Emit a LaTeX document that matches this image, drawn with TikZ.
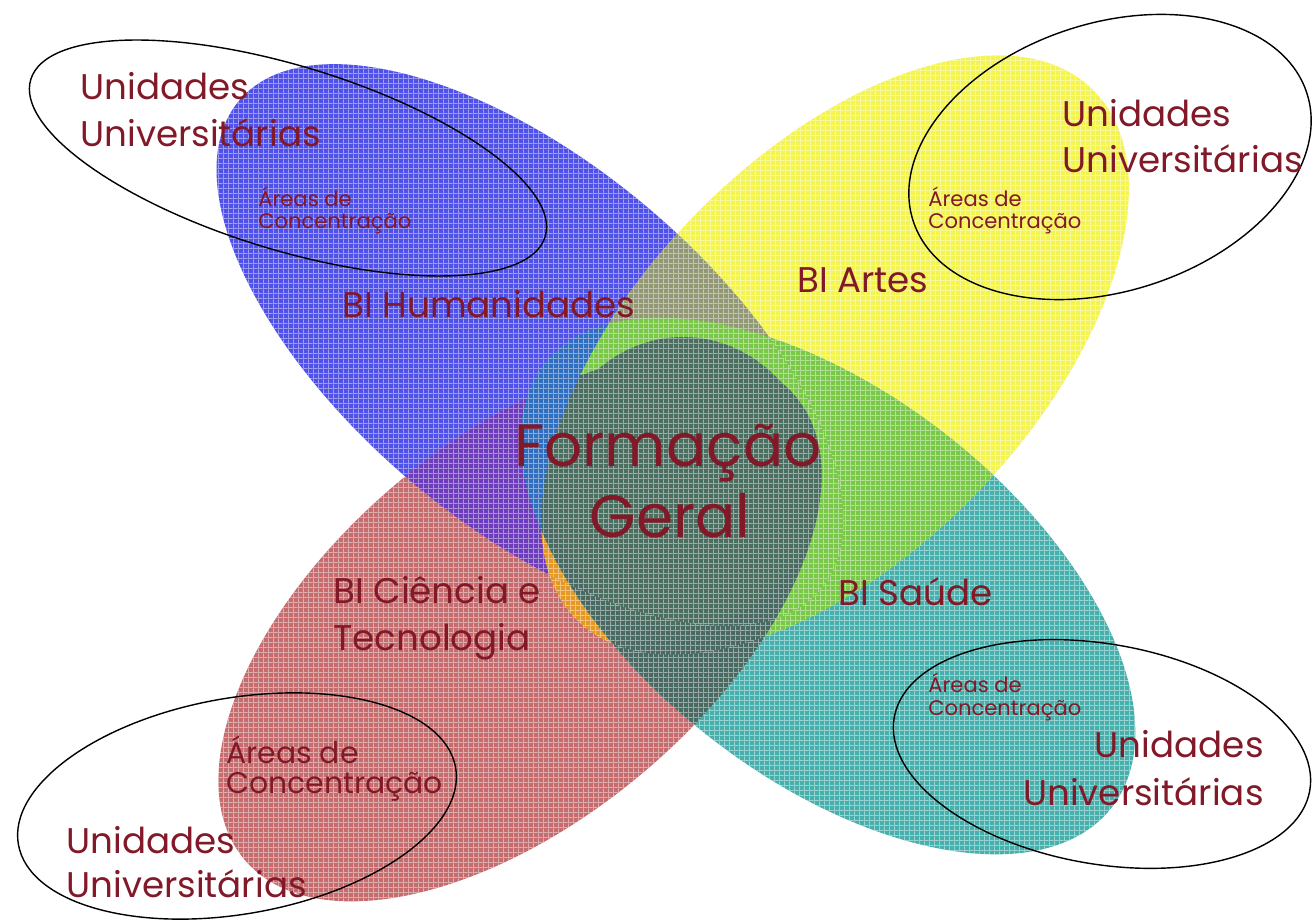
\documentclass[tikz,border=0pt]{standalone}
\usepackage{fontspec}
\setmainfont{Poppins}
\usetikzlibrary{patterns.meta}
\definecolor{cBlue}{RGB}{80,80,234}
\definecolor{cYel}{RGB}{244,244,80}
\definecolor{cRed}{RGB}{198,108,110}
\definecolor{cTeal}{RGB}{72,176,172}
\definecolor{cBY}{RGB}{146,152,116}
\definecolor{cBR}{RGB}{108,60,188}
\definecolor{cYR}{RGB}{230,152,36}
\definecolor{cBT}{RGB}{48,110,192}
\definecolor{cYT}{RGB}{122,200,72}
\definecolor{cRT}{RGB}{72,106,98}
\definecolor{cCirc}{RGB}{74,110,95}
\definecolor{cTxt}{RGB}{130,25,40}
\tikzdeclarepattern{
  name=pxgrid,
  bottom left={(0pt,0pt)},
  top right={(3pt,3pt)},
  tile size={(3pt,3pt)},
  code={
    \pgfpathrectangle{\pgfpointorigin}{\pgfpoint{3pt}{0.6pt}}
    \pgfpathrectangle{\pgfpointorigin}{\pgfpoint{0.6pt}{3pt}}
    \pgfusepath{fill}
  }
}
\newcommand\EB[1]{\path[#1,shift={(530,345)},rotate=-40] (0,0) ellipse [x radius=7.6cm,y radius=3.62cm];}
\newcommand\EY[1]{\path[#1,shift={(835,355)},rotate=46] (0,0) ellipse [x radius=7.4cm,y radius=3.96cm];}
\newcommand\ER[1]{\path[#1,shift={(520,628)},rotate=40] (0,0) ellipse [x radius=7.2cm,y radius=3.8cm];}
\newcommand\ET[1]{\path[#1,shift={(828,586)},rotate=-38] (0,0) ellipse [x radius=7.2cm,y radius=3.84cm];}
% clip to the outside of one ellipse: centre x, centre y, angle, angle+90, a, b
\newcommand\Outside[6]{%
  \pgfpathrectangle{\pgfpointxy{-10}{-10}}{\pgfpointxy{1340}{945}}%
  \pgfpathellipse{\pgfpointxy{#1}{#2}}{\pgfpointpolar{#3}{#5}}{\pgfpointpolar{#4}{#6}}%
  \pgfseteorule
  \pgfusepath{clip}}
\begin{document}
\begin{tikzpicture}[x=0.02cm,y=-0.02cm,
  outl/.style={draw=black,line width=0.8pt},
  tex/.style={pattern=pxgrid,pattern color=white,fill opacity=0.45},
  big/.style={inner sep=0pt,text=cTxt,font=\fontsize{20.3}{24}\selectfont},
  small/.style={inner sep=0pt,text=cTxt,font=\fontsize{12}{14}\selectfont},
  mid/.style={inner sep=0pt,text=cTxt,font=\fontsize{17}{20}\selectfont},
  huge/.style={inner sep=0pt,text=cTxt,font=\fontsize{34}{40}\selectfont}]
\useasboundingbox (0,0) rectangle (1316,922);
\fill[white] (0,0) rectangle (1316,922);
% petals
\EB{fill=cBlue}
\EY{fill=cYel}
\ER{fill=cRed}
\ET{fill=cTeal}
% overlaps
\begin{scope}\EB{clip}\EY{fill=cBY}\end{scope}
\begin{scope}\EB{clip}\ER{fill=cBR}\end{scope}
\begin{scope}\EY{clip}\ER{fill=cYR}\end{scope}
\begin{scope}\EY{clip}\ET{fill=cYT}\end{scope}
\begin{scope}\ER{clip}\ET{fill=cRT}\end{scope}
\begin{scope}
  \Outside{835}{355}{46}{136}{7.4cm}{3.96cm}
  \EB{clip}\ET{fill=cBT}
\end{scope}
% centre
\fill[cCirc] (683,482) ellipse [x radius=2.7cm,y radius=2.9cm];
% halftone texture over the union of the petals
\EB{tex}
\begin{scope}
  \Outside{530}{345}{-40}{50}{7.6cm}{3.62cm}
  \EY{tex}
  \begin{scope}
    \Outside{835}{355}{46}{136}{7.4cm}{3.96cm}
    \ER{tex}
    \begin{scope}
      \Outside{520}{628}{40}{130}{7.2cm}{3.8cm}
      \ET{tex}
    \end{scope}
  \end{scope}
\end{scope}
% outline ellipses
\path[outl,shift={(288,158)},rotate=-17] (0,0) ellipse [x radius=5.38cm,y radius=1.84cm];
\path[outl,shift={(1110,157)},rotate=18] (0,0) ellipse [x radius=4.14cm,y radius=2.68cm];
\path[outl,shift={(1102,754)},rotate=-10] (0,0) ellipse [x radius=4.22cm,y radius=2.2cm];
\path[outl,shift={(237,806)},rotate=10] (0,0) ellipse [x radius=4.44cm,y radius=2.16cm];
% labels
\node[big,anchor=base west] (tlu1) at (80,100) {Unidades};
\node[big,anchor=base west] (tlu2) at (80,147) {Universitárias};
\node[small,anchor=base west] (tla1) at (258,207) {Áreas de};
\node[small,anchor=base west] (tla2) at (258,229) {Concentração};
\node[big,anchor=base west] (hum) at (342,318) {BI Humanidades};
\node[big,anchor=base west] (tru1) at (1062,127) {Unidades};
\node[big,anchor=base west] (tru2) at (1062,173) {Universitárias};
\node[small,anchor=base west] (tra1) at (928,207) {Áreas de};
\node[small,anchor=base west] (tra2) at (928,229) {Concentração};
\node[big,anchor=base west] (art) at (797,293) {BI Artes};
\node[huge,anchor=base] (fg1) at (668,466) {Formação};
\node[huge,anchor=base] (fg2) at (670,537) {Geral};
\node[big,anchor=base west] (cit1) at (333,603) {BI Ciência e};
\node[big,anchor=base west] (cit2) at (333,650) {Tecnologia};
\node[big,anchor=base west] (sau) at (838,605) {BI Saúde};
\node[small,anchor=base west] (bra1) at (928,692) {Áreas de};
\node[small,anchor=base west] (bra2) at (928,715) {Concentração};
\node[big,anchor=base east] (bru1) at (1264,757) {Unidades};
\node[big,anchor=base east] (bru2) at (1264,805) {Universitárias};
\node[mid,anchor=base west] (bla1) at (226,763) {Áreas de};
\node[mid,anchor=base west] (bla2) at (226,793) {Concentração};
\node[big,anchor=base west] (blu1) at (66,853) {Unidades};
\node[big,anchor=base west] (blu2) at (66,897) {Universitárias};
\end{tikzpicture}
\end{document}
